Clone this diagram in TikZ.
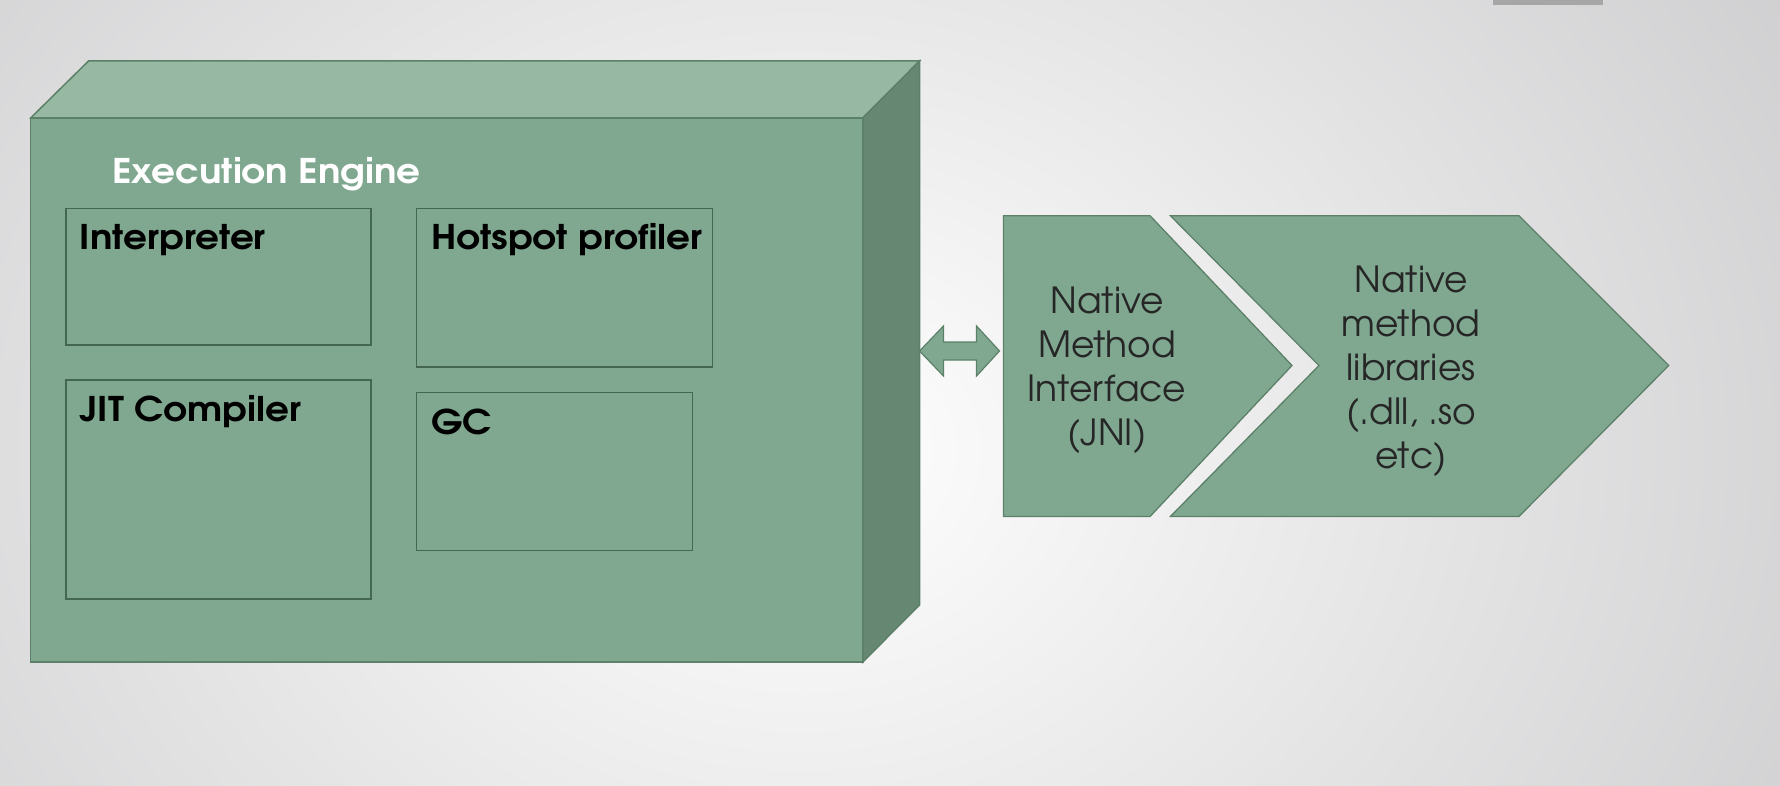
\documentclass[tikz,border=0pt]{standalone}
\usepackage{fontspec}
\setmainfont{TeX Gyre Adventor}
\newfontfamily\labfont[FakeStretch=1.1]{TeX Gyre Adventor}
\begin{document}
\begin{tikzpicture}[x=1pt,y=-1pt,
  front/.style={fill=frontc, draw=edgec, line width=1.5pt, line join=miter},
  topf/.style={fill=topc, draw=edgec, line width=1.5pt},
  sidef/.style={fill=sidec, draw=edgec, line width=1.5pt},
  ibox/.style={draw=boxc, line width=1.8pt, fill=none, rectangle, inner sep=0pt},
  blabel/.style={font=\labfont\fontsize{34}{40}\selectfont\bfseries, text=black, anchor=west, inner sep=0pt},
  ntext/.style={font=\fontsize{36}{44}\selectfont, text=textc, align=center, inner sep=0pt},
  chev/.style={fill=frontc, draw=edgec, line width=1.3pt, line join=miter}]
\definecolor{frontc}{HTML}{80A890}
\definecolor{topc}{HTML}{97B9A4}
\definecolor{sidec}{HTML}{668872}
\definecolor{edgec}{HTML}{5C8068}
\definecolor{boxc}{HTML}{44674F}
\definecolor{bgout}{HTML}{C9C9CB}
\definecolor{textc}{HTML}{262626}
\useasboundingbox (0,0) rectangle (1780,786);
% background
\shade[inner color=white, outer color=bgout] (-500,-600) rectangle (2100,1500);
\fill[gray!70] (1493,0) rectangle (1603,5);
% cube
\draw[topf] (30.6,118) -- (88.5,61) -- (919.5,61) -- (862.8,118) -- cycle;
\draw[sidef] (862.8,118) -- (919.5,61) -- (919.5,605) -- (862.8,662) -- cycle;
\draw[front] (30.6,118) rectangle (862.8,662);
\coordinate (cubeR) at (919.5,351);
\node[blabel, text=white] (ee) at (112,174) {Execution Engine};
% inner boxes
\node[ibox, minimum width=305pt, minimum height=136pt, anchor=north west] (interp) at (64.7,207.7) {};
\node[blabel] (interpL) at (79.5,240) {Interpreter};
\node[ibox, minimum width=296pt, minimum height=158pt, anchor=north west] (hot) at (415.5,207.7) {};
\node[blabel] (hotL) at (431,240) {Hotspot profiler};
\node[ibox, minimum width=305pt, minimum height=219pt, anchor=north west] (jit) at (64.7,379) {};
\node[blabel] (jitL) at (79.5,412) {JIT Compiler};
\node[ibox, minimum width=276pt, minimum height=158pt, anchor=north west] (gc) at (415.5,391.6) {};
\node[blabel] (gcL) at (431,422) {GC};
% chevrons
\draw[chev] (1003.5,215.7) -- (1150,215.7) -- (1292,365.5) -- (1150,516.5) -- (1003.5,516.5) -- cycle;
\coordinate (nmiL) at (1003.5,351);
\node[ntext] (nmi) at (1107,370) {Native\\Method\\Interface\\(JNI)};
\draw[chev] (1170.4,215.7) -- (1518.9,215.7) -- (1668.7,365.5) -- (1518.9,516.5) -- (1170.4,516.5) -- (1319,365.5) -- cycle;
\node[ntext] (nml) at (1411,371) {Native\\method\\libraries\\(.dll, .so\\etc)};
% double block arrow
\draw[chev, line width=1.2pt] (cubeR) -- ++(24,-25) -- ++(0,16) -- ++(33,0) -- ++(0,-16) -- ([xshift=-4pt]nmiL) -- ++(-23,25) -- ++(0,-16) -- ++(-33,0) -- ++(0,16) -- cycle;
\end{tikzpicture}
\end{document}
